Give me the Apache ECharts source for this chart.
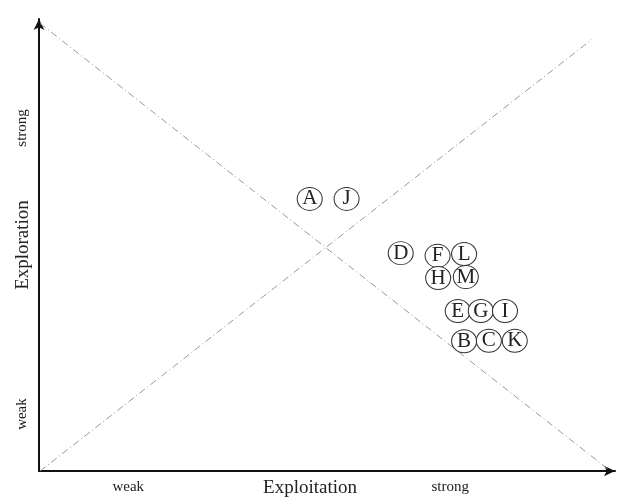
<!DOCTYPE html>
<html>
<head>
<meta charset="utf-8">
<script src="https://cdn.jsdelivr.net/npm/echarts@6/dist/echarts.min.js"></script>
<style>html,body{margin:0;padding:0;background:#fff}#c{width:625px;height:498px}</style>
</head>
<body>
<div id="c"></div>
<script>
const pointNames = ['A','J','D','F','L','H','M','E','G','I','B','C','K'];
const pointX = [47.0, 53.4, 62.8, 69.2, 73.8, 69.3, 74.1, 72.7, 76.7, 80.9, 73.8, 78.1, 82.6];
const pointY = [60.2, 60.2, 48.2, 47.6, 48.0, 42.7, 42.9, 35.4, 35.4, 35.4, 28.7, 28.8, 28.8];
const diagonalDown = [[0.2, 99], [99, 0.2]];
const diagonalUp = [[0.2, 0], [96, 95.5]];
const xTickValues = [15.5, 71.4];
const xTickLabels = ['weak', 'strong'];
const yTickValues = [12.6, 75.9];
const yTickLabels = ['weak', 'strong'];
const xTitle = 'Exploitation';
const yTitle = 'Exploration';

const serif = '"Liberation Serif", "DejaVu Serif", serif';
const chart = echarts.init(document.getElementById('c'));
const dashStyle = {color: '#999', width: 1, type: [7, 3, 1, 3]};
chart.setOption({
  animation: false,
  grid: {left: 39, right: 10, top: 19, bottom: 27, containLabel: false, outerBoundsMode: 'none'},
  xAxis: {
    type: 'value', min: 0, max: 100,
    splitLine: {show: false},
    axisLine: {lineStyle: {color: '#111', width: 2}, symbol: ['none', 'arrow'], symbolSize: [8, 11]},
    axisTick: {show: false},
    axisLabel: {
      customValues: xTickValues,
      formatter: function (v) { const i = xTickValues.indexOf(v); return i >= 0 ? xTickLabels[i] : ''; },
      fontFamily: serif, fontSize: 15, color: '#222', margin: 9
    },
    name: xTitle, nameLocation: 'middle', nameGap: 8, nameMoveOverlap: false,
    nameTextStyle: {fontFamily: serif, fontSize: 19, color: '#222', padding: [0, 34, 0, 0], verticalAlign: 'top'}
  },
  yAxis: {
    type: 'value', min: 0, max: 100,
    splitLine: {show: false},
    axisLine: {lineStyle: {color: '#111', width: 2}, symbol: ['none', 'arrow'], symbolSize: [8, 11]},
    axisTick: {show: false},
    axisLabel: {
      customValues: yTickValues,
      formatter: function (v) { const i = yTickValues.indexOf(v); return i >= 0 ? yTickLabels[i] : ''; },
      fontFamily: serif, fontSize: 15, color: '#222', rotate: 90, margin: 9
    },
    name: yTitle, nameLocation: 'middle', nameGap: 6, nameMoveOverlap: false,
    nameTextStyle: {fontFamily: serif, fontSize: 19, color: '#222'}
  },
  series: [
    {type: 'line', data: diagonalDown, symbol: 'none', lineStyle: dashStyle, z: 1, silent: true},
    {type: 'line', data: diagonalUp, symbol: 'none', lineStyle: dashStyle, z: 1, silent: true},
    {
      type: 'scatter', z: 5,
      data: pointNames.map((n, i) => ({value: [pointX[i], pointY[i]], name: n})),
      symbol: 'circle', symbolSize: [25, 23],
      itemStyle: {color: '#fff', borderColor: '#333', borderWidth: 1, opacity: 1},
      label: {show: true, position: 'inside', formatter: '{b}', fontFamily: serif, fontSize: 21, color: '#222'}
    }
  ]
});
</script>
</body>
</html>
